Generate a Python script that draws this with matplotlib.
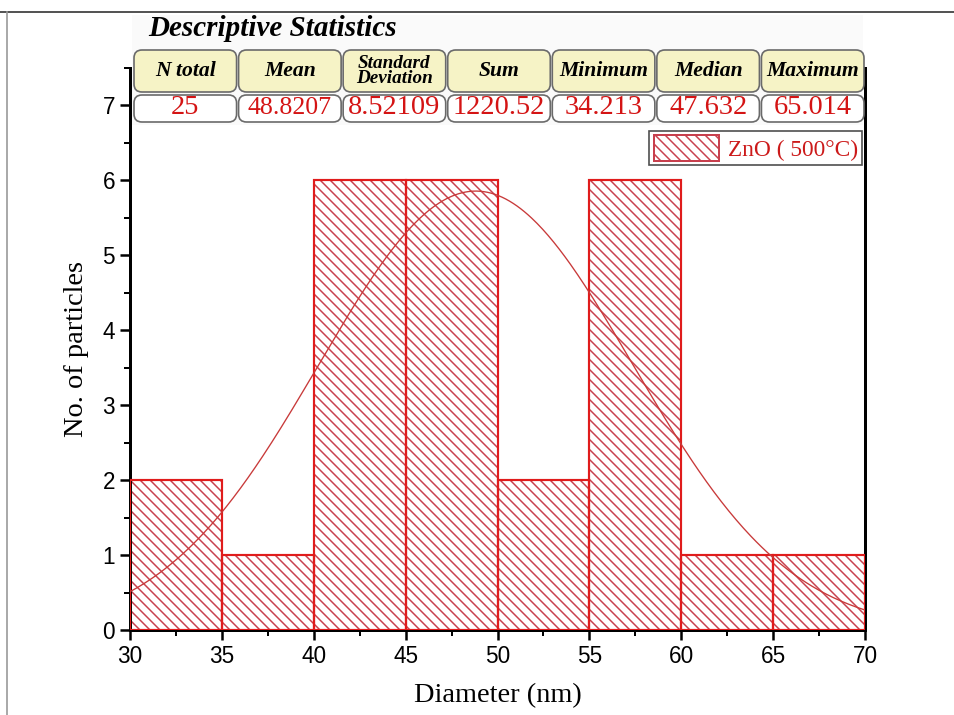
import numpy as np
import matplotlib
matplotlib.use("Agg")
import matplotlib.pyplot as plt
from matplotlib.patches import FancyBboxPatch, Rectangle
from matplotlib.lines import Line2D
from matplotlib.transforms import IdentityTransform
from matplotlib.ticker import MultipleLocator

# Histogram data
bin_edges = [30, 35, 40, 45, 50, 55, 60, 65, 70]
counts = [2, 1, 6, 6, 2, 6, 1, 1]

# Descriptive statistics
stat_names = ["N total", "Mean", "Standard\nDeviation", "Sum", "Minimum", "Median", "Maximum"]
stat_values = ["25", "48.8207", "8.52109", "1220.52", "34.213", "47.632", "65.014"]
n_total = 25
mean_d = 48.8207
sd_d = 8.52109

W, H, DPI = 954, 715, 120
plt.rcParams["hatch.linewidth"] = 0.9
plt.rcParams["font.family"] = ["Liberation Sans", "DejaVu Sans"]
serif = ["Liberation Serif", "DejaVu Serif"]

fig = plt.figure(figsize=(W / DPI, H / DPI), dpi=DPI)
fig.patch.set_facecolor("white")

ax_l, ax_r, ax_b, ax_t = 130, 865, 630, 67.5
ax = fig.add_axes([ax_l / W, 1 - ax_b / H, (ax_r - ax_l) / W, (ax_b - ax_t) / H])
ax.set_zorder(2)
ax.patch.set_alpha(0)

edge_red = "#e01c1c"
hatch_red = "#c8404e"
lefts = np.array(bin_edges[:-1])
widths = np.diff(bin_edges)

# hatched fill, then crisp red outlines
ax.bar(lefts, counts, width=widths, align="edge", color="none",
       edgecolor=hatch_red, hatch="\\\\\\\\", linewidth=0, zorder=2)
ax.bar(lefts, counts, width=widths, align="edge", fill=False,
       edgecolor=edge_red, linewidth=1.3, zorder=3)

# normal distribution curve scaled to counts
xs = np.linspace(bin_edges[0], bin_edges[-1], 400)
bw = widths[0]
ys = n_total * bw / (sd_d * np.sqrt(2 * np.pi)) * np.exp(-(xs - mean_d) ** 2 / (2 * sd_d ** 2))
ax.plot(xs, ys, color="#c83a3a", linewidth=0.8, zorder=4)

ax.set_xlim(30, 70)
ax.set_ylim(0, 7.5)
ax.xaxis.set_major_locator(MultipleLocator(5))
ax.xaxis.set_minor_locator(MultipleLocator(2.5))
ax.yaxis.set_major_locator(MultipleLocator(1))
ax.yaxis.set_minor_locator(MultipleLocator(0.5))
ax.set_yticks(range(0, 8))
ax.tick_params(axis="both", which="major", direction="out", length=6, width=1.5,
               labelsize=13.5, pad=3)
ax.tick_params(axis="both", which="minor", direction="out", length=3.5, width=1.2)
ax.spines["top"].set_visible(False)
for s in ("left", "right", "bottom"):
    ax.spines[s].set_linewidth(1.8)

ax.set_xlabel("Diameter (nm)", family=serif, fontsize=17, labelpad=9)
ax.set_ylabel("No. of particles", family=serif, fontsize=17, labelpad=8)

# legend
hatch_proxy = Rectangle((0, 0), 1, 1, facecolor="none", edgecolor=hatch_red,
                        hatch="\\\\\\\\", linewidth=1.2)
leg = ax.legend([hatch_proxy], ["ZnO ( 500°C)"], loc="upper right",
                bbox_to_anchor=(0.9965, 0.888), frameon=True, fancybox=False,
                prop={"family": serif, "size": 14}, handlelength=2.8, handleheight=1.3,
                borderpad=0.2, handletextpad=0.35, borderaxespad=0)
leg.get_frame().set_edgecolor("#222222")
leg.get_frame().set_linewidth(1.0)
for t in leg.get_texts():
    t.set_color("#cc1a1a")

# statistics panel (pixel coordinates, y measured from the top)
px = IdentityTransform()

def Y(y):
    return H - y

fig.patches.append(Rectangle((132, Y(125)), 731, 110, transform=px,
                             facecolor="#fafafa", edgecolor="none", zorder=0))

fig.text(148 / W, 1 - 29 / H, "Descriptive Statistics", family=serif,
         fontsize=17.5, fontweight="bold", fontstyle="italic", va="center", ha="left")

n_cols = len(stat_names)
x0, x1, gap = 134, 864, 2
col_w = (x1 - x0 - gap * (n_cols - 1)) / n_cols
for i, (name, val) in enumerate(zip(stat_names, stat_values)):
    cx = x0 + i * (col_w + gap)
    hdr = FancyBboxPatch((cx, Y(92)), col_w, 42, transform=px,
                         boxstyle="round,pad=0,rounding_size=8",
                         facecolor="#f6f3c6", edgecolor="#6a6a6a", linewidth=1.0, zorder=5)
    vb = FancyBboxPatch((cx, Y(122)), col_w, 27, transform=px,
                        boxstyle="round,pad=0,rounding_size=8",
                        facecolor="white", edgecolor="#6a6a6a", linewidth=1.0, zorder=5)
    fig.patches.extend([hdr, vb])
    two_line = "\n" in name
    fig.text(cx + col_w / 2, Y(71), name, transform=px, ha="center", va="center",
             family=serif, fontweight="bold", fontstyle="italic",
             fontsize=11.5 if two_line else 13, linespacing=0.78, zorder=6)
    fs = 15.5 if val == "48.8207" else 17
    fig.text(cx + col_w / 2, Y(108), val, transform=px, ha="center", va="center",
             family=serif, fontsize=fs, color="#d41414", zorder=6)

# outer frame lines
fig.add_artist(Line2D([0, 1], [1 - 12 / H, 1 - 12 / H], transform=fig.transFigure,
                      color="#333333", linewidth=1.0))
fig.add_artist(Line2D([7 / W, 7 / W], [0, 1 - 12 / H], transform=fig.transFigure,
                      color="#999999", linewidth=1.0))

fig.savefig("out.png", dpi=DPI, facecolor="white")
